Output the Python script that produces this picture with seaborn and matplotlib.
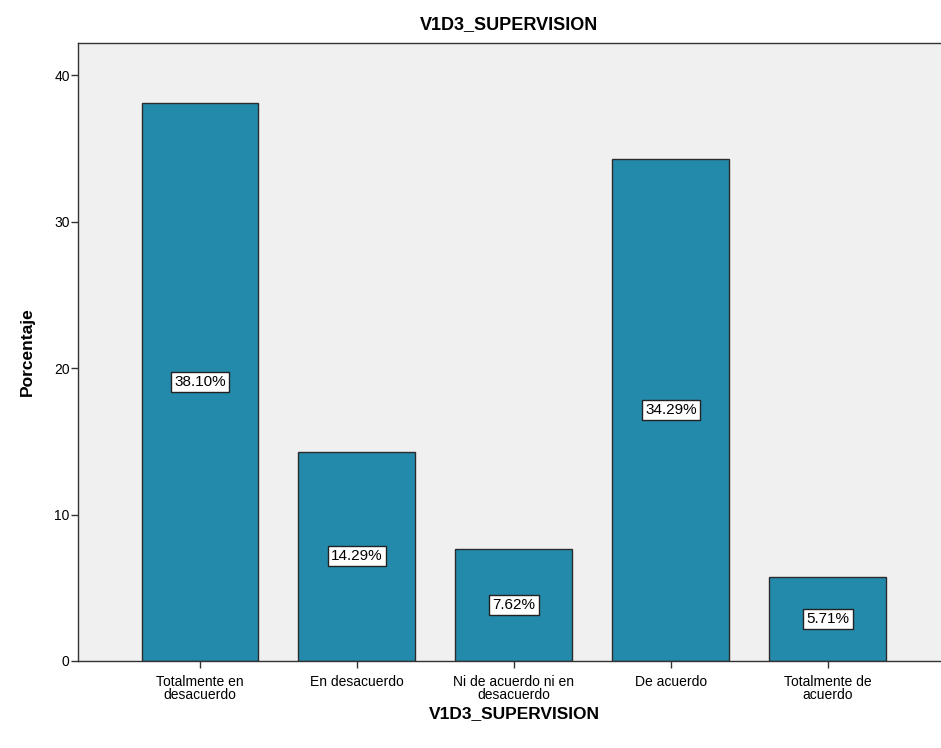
import matplotlib
matplotlib.use('Agg')
import matplotlib.pyplot as plt
import pandas as pd
import seaborn as sns

categories = ['Totalmente en\ndesacuerdo', 'En desacuerdo', 'Ni de acuerdo ni en\ndesacuerdo',
              'De acuerdo', 'Totalmente de\nacuerdo']
percentages = [38.10, 14.29, 7.62, 34.29, 5.71]
y_ticks = [0, 10, 20, 30, 40]

data = pd.DataFrame({'categoria': categories, 'porcentaje': percentages})

sns.set_style('white')
plt.rcParams['font.family'] = ['Liberation Sans', 'DejaVu Sans']
plt.rcParams['text.color'] = 'black'
plt.rcParams['axes.labelcolor'] = 'black'
plt.rcParams['xtick.color'] = 'black'
plt.rcParams['ytick.color'] = 'black'

fig = plt.figure(figsize=(9.41, 7.48), dpi=100)
ax = fig.add_axes([78 / 941, 87 / 748, 1.0 - 78 / 941 + 0.01, (661 - 43) / 748])
ax.set_facecolor('#F0F0F0')

sns.barplot(data=data, x='categoria', y='porcentaje', color='#248AAC', saturation=1,
            width=0.745, edgecolor='#2b2b2b', linewidth=1.0, ax=ax)

# value boxes in the middle of each bar
for i, v in enumerate(percentages):
    ax.text(i, v / 2, f'{v:.2f}%', ha='center', va='center', fontsize=11, color='black',
            bbox=dict(boxstyle='square,pad=0.2', facecolor='white', edgecolor='#222222', linewidth=1))

ax.set_xlim(-0.777, 4.78)
ax.set_ylim(0, 42.2)
ax.set_yticks(y_ticks)
ax.tick_params(axis='both', bottom=True, left=True, direction='out', length=5, width=1,
               color='#333333', labelsize=10, labelcolor='black')
ax.tick_params(axis='x', pad=5)
ax.tick_params(axis='y', pad=1)
for lbl in ax.get_xticklabels():
    lbl.set_linespacing(0.9)
ax.spines['right'].set_visible(False)
for s in ['left', 'bottom', 'top']:
    ax.spines[s].set_color('#333333')
    ax.spines[s].set_linewidth(1)

ax.set_xlabel('V1D3_SUPERVISION', fontsize=12.5, fontweight='bold', labelpad=3)
ax.set_ylabel('Porcentaje', fontsize=12.5, fontweight='bold', labelpad=14)
fig.text(0.5 * (78 / 941 + 1.0), 1 - 25 / 748, 'V1D3_SUPERVISION', ha='center', va='center',
         fontsize=13, fontweight='bold')

plt.savefig('out.png', dpi=100)
plt.close()
